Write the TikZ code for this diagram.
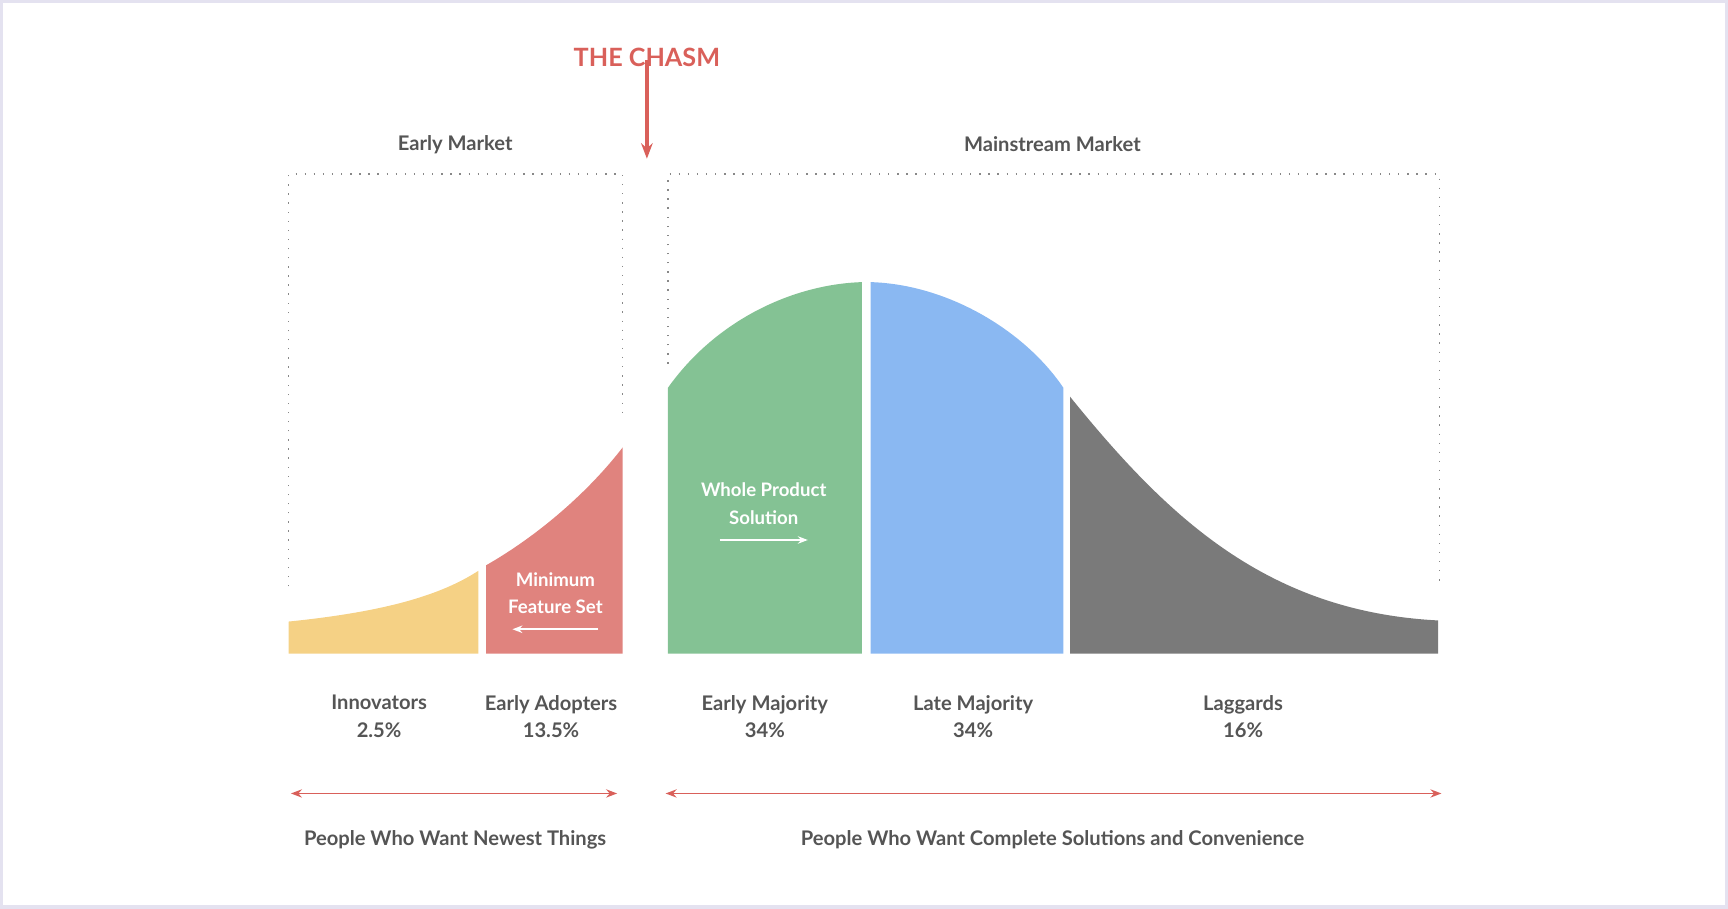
\documentclass[tikz,border=0pt]{standalone}
\usepackage{fontspec}
\setmainfont{Lato}
\usetikzlibrary{arrows.meta}
\definecolor{inno}{HTML}{F5D185}
\definecolor{adopt}{HTML}{E0837E}
\definecolor{early}{HTML}{84C294}
\definecolor{late}{HTML}{8AB8F2}
\definecolor{lag}{HTML}{7A7A7A}
\definecolor{txt}{HTML}{555555}
\definecolor{chasm}{HTML}{D9605A}
\definecolor{frame}{HTML}{E4E2F0}
\tikzstyle{label}=[font=\fontsize{5.2}{7}\selectfont\bfseries, text=txt, align=center]
\tikzstyle{inner}=[font=\fontsize{4.8}{7}\selectfont\bfseries, text=white, align=center]
\tikzstyle{market}=[draw=txt!70, dotted, line width=0.35pt]
\tikzstyle{span}=[chasm, line width=0.4pt, {Stealth[length=1mm]}-{Stealth[length=1mm]}]
\begin{document}
\begin{tikzpicture}[x=0.01cm, y=-0.01cm]
	\useasboundingbox (0,0) rectangle (1568,824);
	\draw[frame, line width=1.2pt] (1,1) rectangle (1567,823);
	% market boxes
	\draw[market] (262,532) -- (262,158) -- (565,158) -- (565,378);
	\draw[market] (606,330) -- (606,158) -- (1306,158) -- (1306,532);
	% bell curve pieces
	\fill[inno] (262,593) -- (262,564) .. controls (350,555) and (400,540) .. (434,518) -- (434,593) -- cycle;
	\fill[adopt] (441,593) -- (441,513) .. controls (490,485) and (535,445) .. (565,406) -- (565,593) -- cycle;
	\fill[early] (606,593) -- (606,352) .. controls (650,290) and (720,258) .. (782,256) -- (782,593) -- cycle;
	\fill[late] (790,593) -- (790,256) .. controls (860,258) and (930,300) .. (965,352) -- (965,593) -- cycle;
	\fill[lag] (971,593) -- (971,360) .. controls (1060,470) and (1150,555) .. (1305,563) -- (1305,593) -- cycle;
	% titles
	\node[font=\fontsize{6.5}{8}\selectfont\bfseries, text=chasm] (chasm) at (587,52) {THE CHASM};
	\coordinate (chasmtip) at (587,144);
	\draw[chasm, line width=0.9pt, -{Stealth[length=1.4mm]}] (chasm.south) ++(0,-18) -- (chasmtip);
	\node[label] (earlymkt) at (413,131) {Early Market};
	\node[label] (mainmkt) at (955,131) {Mainstream Market};
	% inner labels
	\node[inner] (mfs) at (504,538) {Minimum\\Feature Set};
	\coordinate (mfsa) at (543,571); \coordinate (mfsb) at (465,571);
	\draw[white, line width=0.6pt, -{Stealth[length=0.9mm]}] (mfsa) -- (mfsb);
	\node[inner] (wps) at (693,457) {Whole Product\\Solution};
	\coordinate (wpsa) at (653,490); \coordinate (wpsb) at (733,490);
	\draw[white, line width=0.6pt, -{Stealth[length=0.9mm]}] (wpsa) -- (wpsb);
	% segment labels
	\node[label] (innov) at (344,650) {Innovators\\2.5\%};
	\node[label] (adopters) at (500,650) {Early Adopters\\13.5\%};
	\node[label] (emaj) at (694,650) {Early Majority\\34\%};
	\node[label] (lmaj) at (883,650) {Late Majority\\34\%};
	\node[label] (lagg) at (1128,650) {Laggards\\16\%};
	% spans
	\coordinate (sa) at (264,720); \coordinate (sb) at (560,720);
	\coordinate (sc) at (604,720); \coordinate (sd) at (1308,720);
	\draw[span] (sa) -- (sb);
	\draw[span] (sc) -- (sd);
	\node[label] (newest) at (413,762) {People Who Want Newest Things};
	\node[label] (complete) at (955,762) {People Who Want Complete Solutions and Convenience};
\end{tikzpicture}
\end{document}
